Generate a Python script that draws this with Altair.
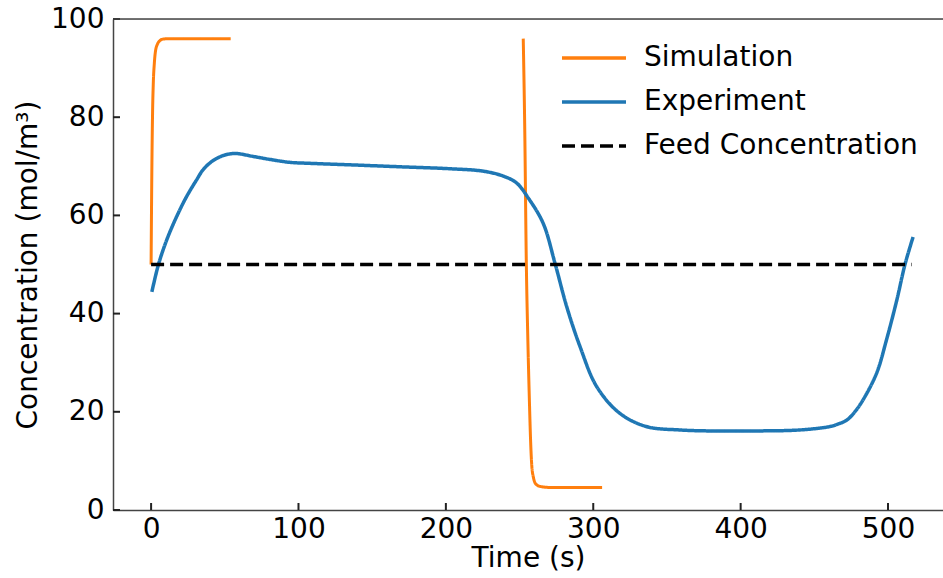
import altair as alt
import pandas as pd

# ---- data ----
sim1_t = [0, 0.3, 0.6, 1.0, 1.5, 2.2, 3.0, 4.5, 6, 8, 12, 54]
sim1_c = [50, 62, 72, 81, 87, 91, 93.5, 95, 95.6, 95.9, 96, 96]

sim2_t = [252.5, 253.5, 254.6, 255.6, 256.7, 257.5, 258.3, 259.5, 261, 264, 270, 306]
sim2_c = [96, 78, 50, 35, 22, 14, 9, 6.5, 5.3, 4.8, 4.6, 4.6]

exp_t = [0.5, 5, 10.6, 17.4, 24.2, 31, 35, 40, 44.5, 49, 53, 58, 69.4, 80.7, 94.3, 108, 135,
         169, 203, 225.5, 239, 248, 256, 266, 274, 282, 291, 302.4, 318, 336, 359, 380, 410,
         440, 460.6, 466, 472, 477.5, 483, 492.3, 499, 506, 511.5, 517]
exp_c = [44.4, 50, 55, 59.8, 63.9, 67.3, 69.2, 70.7, 71.6, 72.2, 72.5, 72.6, 72.0, 71.4, 70.8,
         70.6, 70.3, 69.9, 69.5, 69.0, 68.0, 66.6, 63.5, 58.4, 50.3, 41.4, 33.3, 25.1, 19.7,
         17.0, 16.3, 16.1, 16.1, 16.3, 17.0, 17.5, 18.3, 20.0, 22.4, 27.9, 34.7, 42.8, 50, 55.6]

feed_t = [0, 516]
feed_c = [50, 50]

series_names = ["Simulation", "Experiment", "Feed Concentration"]
x_ticks = [0, 100, 200, 300, 400, 500]
y_ticks = [0, 20, 40, 60, 80, 100]

rows = []
for t, c in zip(sim1_t, sim1_c):
    rows.append({"t": t, "c": c, "series": "Simulation", "seg": "sim1"})
for t, c in zip(sim2_t, sim2_c):
    rows.append({"t": t, "c": c, "series": "Simulation", "seg": "sim2"})
for t, c in zip(exp_t, exp_c):
    rows.append({"t": t, "c": c, "series": "Experiment", "seg": "exp"})
for t, c in zip(feed_t, feed_c):
    rows.append({"t": t, "c": c, "series": "Feed Concentration", "seg": "feed"})
df = pd.DataFrame(rows)

W, H = 830, 491
FONT = "DejaVu Sans"

xs = alt.Scale(domain=[-25.85, 537.3], nice=False, zero=False)
ys = alt.Scale(domain=[0, 100], nice=False, zero=False)

x_axis = alt.Axis(values=x_ticks, title="Time (s)", format="d", ticks=False, grid=False,
                  domainColor="#444444", domainWidth=1.5, labelFontSize=28, titleFontSize=28,
                  labelFont=FONT, titleFont=FONT, labelColor="black", titleColor="black",
                  titleFontWeight="normal", labelPadding=5, titlePadding=1)
y_axis = alt.Axis(values=y_ticks, title="Concentration (mol/m³)", format="d", ticks=False,
                  grid=False, domainColor="#444444", domainWidth=1.5, labelFontSize=28,
                  titleFontSize=28, labelFont=FONT, titleFont=FONT, labelColor="black",
                  titleColor="black", titleFontWeight="normal", labelPadding=9, titlePadding=8)

legend = alt.Legend(title=None, orient="none", legendX=447, legendY=17, symbolType="stroke",
                    symbolSize=4096, symbolStrokeWidth=3.5, labelFontSize=28, labelFont=FONT,
                    labelColor="black", labelOffset=16, labelLimit=0, rowPadding=0,
                    clipHeight=44, padding=0)

color = alt.Color("series:N", scale=alt.Scale(domain=series_names,
                                              range=["#ff7f0e", "#1f77b4", "#000000"]),
                  legend=legend)
dash = alt.StrokeDash("series:N", scale=alt.Scale(domain=series_names,
                                                  range=[[1, 0], [1, 0], [13, 6]]),
                      legend=legend)

base = alt.Chart(df)


def line_layer(name, width, interp):
    return base.transform_filter(alt.datum.series == name).mark_line(
        strokeWidth=width, interpolate=interp
    ).encode(
        x=alt.X("t:Q", scale=xs, axis=x_axis),
        y=alt.Y("c:Q", scale=ys, axis=y_axis),
        color=color,
        strokeDash=dash,
        detail="seg:N",
    )


sim = line_layer("Simulation", 3, "monotone")
exp = line_layer("Experiment", 3.5, "catmull-rom")
feed = line_layer("Feed Concentration", 3.5, "linear")

xt = alt.Chart(pd.DataFrame({"t": x_ticks})).mark_rule(color="#222222", strokeWidth=2).encode(
    x=alt.X("t:Q", scale=xs, axis=x_axis), y=alt.value(H), y2=alt.value(H - 7))
yt = alt.Chart(pd.DataFrame({"c": y_ticks})).mark_rule(color="#222222", strokeWidth=2).encode(
    y=alt.Y("c:Q", scale=ys, axis=y_axis), x=alt.value(0), x2=alt.value(7))
top = alt.Chart(pd.DataFrame({"c": [100]})).mark_rule(color="#444444", strokeWidth=1.5).encode(
    y=alt.Y("c:Q", scale=ys, axis=y_axis), x=alt.value(0), x2=alt.value(W))

chart = alt.layer(sim, exp, feed, xt, yt, top).properties(
    width=W, height=H,
    autosize=alt.AutoSizeParams(type="none"),
    padding={"left": 113, "top": 19, "right": 0, "bottom": 68},
).configure_view(stroke=None).configure(background="white")

chart.save("out.html", embed_options={"renderer": "svg", "actions": False})
